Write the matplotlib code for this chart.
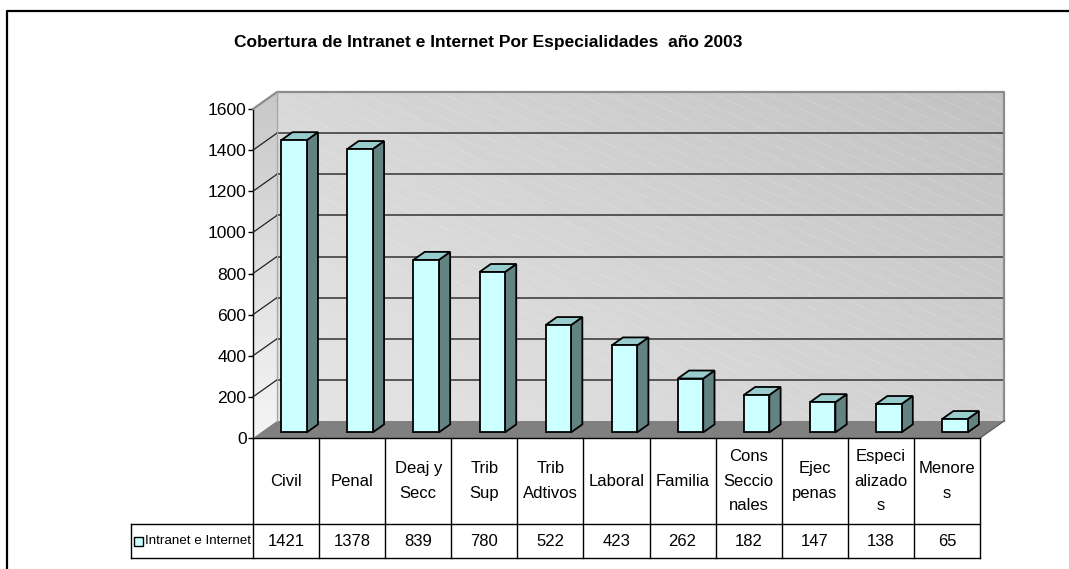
import numpy as np
import matplotlib
matplotlib.use("Agg")
import matplotlib.pyplot as plt
from matplotlib.patches import Polygon, Rectangle
from matplotlib.lines import Line2D
from matplotlib.transforms import IdentityTransform

# ---------------- data ----------------
title = "Cobertura de Intranet e Internet Por Especialidades  año 2003"
categories = ["Civil", "Penal", "Deaj y\nSecc", "Trib\nSup", "Trib\nAdtivos", "Laboral",
              "Familia", "Cons\nSeccio\nnales", "Ejec\npenas", "Especi\nalizado\ns", "Menore\ns"]
values = [1421, 1378, 839, 780, 522, 423, 262, 182, 147, 138, 65]
series_name = "Intranet e Internet"
y_ticks = [0, 200, 400, 600, 800, 1000, 1200, 1400, 1600]

# ---------------- style ----------------
FONT = ["Liberation Sans", "DejaVu Sans"]
plt.rcParams["font.family"] = FONT
W, H, DPI = 1069, 569, 100
FRONT = "#CCFFFF"
TOP = "#99CCCC"
SIDE = "#638383"
FLOOR = "#808080"
DEPTH = np.array([24.0, 17.0])   # pixel offset of back wall
BAR_F0, BAR_F1 = 0.33, 0.80      # bar depth span (fraction of wall depth)
BAR_W = 0.385
TXT = 12.0

fig = plt.figure(figsize=(W / DPI, H / DPI), dpi=DPI)
fig.patch.set_facecolor("white")

ax = fig.add_axes([253 / W, (H - 438) / H, (980 - 253) / W, (438 - 109) / H])
n = len(categories)
ax.set_xlim(-0.5, n - 0.5)
ax.set_ylim(y_ticks[0], y_ticks[-1])
ax.set_facecolor("none")
for s in ["top", "right", "bottom"]:
    ax.spines[s].set_visible(False)
ax.spines["left"].set_color("black")
ax.spines["left"].set_linewidth(1.0)
ax.spines["left"].set_zorder(10)
ax.set_xticks([])
ax.set_yticks(y_ticks)
ax.set_yticklabels([str(t) for t in y_ticks])
ax.tick_params(axis="y", length=5 * 72 / DPI, width=1, pad=1.0, labelsize=12.6, colors="black")

fig.canvas.draw()
ID = IdentityTransform()


def P(x, y, f=0.0, dy_px=0.0):
    """data point -> display pixels, shifted by depth fraction f and extra pixel drop"""
    p = ax.transData.transform((x, y))
    return (p[0] + DEPTH[0] * f, p[1] + DEPTH[1] * f - dy_px)


def poly(points, **kw):
    pg = Polygon(points, closed=True, transform=ID, **kw)
    fig.add_artist(pg)
    return pg


def line(points, **kw):
    xs, ys = zip(*points)
    ln = Line2D(xs, ys, transform=ID, **kw)
    fig.add_artist(ln)
    return ln


x0, x1 = -0.5, n - 0.5
ymin, ymax = y_ticks[0], y_ticks[-1]

# ---------------- back wall (gradient) ----------------
bw = [P(x0, ymin, 1), P(x1, ymin, 1), P(x1, ymax, 1), P(x0, ymax, 1)]
bw_patch = poly(bw, facecolor="none", edgecolor="none", zorder=1)
gx, gy = np.meshgrid(np.linspace(0, 1, 200), np.linspace(0, 1, 100))
g = 0.6 * gx + 0.4 * gy
light, dark = 0.90, 0.76
img = light + (dark - light) * g
bx = [bw[0][0], bw[1][0]]
by = [bw[0][1], bw[2][1]]
im = ax.imshow(img, cmap="gray", vmin=0, vmax=1, origin="lower",
               extent=[bx[0], bx[1], by[0], by[1]], transform=ID, zorder=1,
               interpolation="bilinear", aspect="auto")
im.set_clip_box(fig.bbox)
im.set_clip_path(bw_patch)
ax.set_xlim(-0.5, n - 0.5)
ax.set_ylim(ymin, ymax)

# faint diagonal pattern lines on the back wall
for k in range(-10, 45):
    sx = bx[0] + k * 27
    ln = line([(sx, by[1]), (sx + 800, by[1] - 800 * 0.45)], color="white",
              lw=0.6, alpha=0.35, ls=(0, (2, 2)), zorder=1.5)
    ln.set_clip_path(bw_patch)

# ---------------- side wall (gradient) ----------------
sw = [P(x0, ymin, 0), P(x0, ymin, 1), P(x0, ymax, 1), P(x0, ymax, 0)]
sw_patch = poly(sw, facecolor="none", edgecolor="none", zorder=1)
simg = np.linspace(0.96, 0.78, 100)[:, None] * np.ones((1, 10))
sim = ax.imshow(simg, cmap="gray", vmin=0, vmax=1, origin="lower",
                extent=[sw[0][0], sw[1][0], sw[0][1], sw[3][1] + DEPTH[1]],
                transform=ID, zorder=1, interpolation="bilinear", aspect="auto")
sim.set_clip_box(fig.bbox)
sim.set_clip_path(sw_patch)
ax.set_xlim(-0.5, n - 0.5)
ax.set_ylim(ymin, ymax)

# ---------------- floor ----------------
poly([P(x0, ymin, 0), P(x1, ymin, 0), P(x1, ymin, 1), P(x0, ymin, 1)],
     facecolor=FLOOR, edgecolor="none", zorder=2)
line([P(x1, ymin, 0), P(x1, ymin, 1)], color="#606060", lw=1.0, zorder=2.5)

# ---------------- gridlines ----------------
for t in y_ticks[1:-1]:
    line([P(x0, t, 1), P(x1, t, 1)], color="#333333", lw=1.1, zorder=2)
    line([P(x0, t, 0), P(x0, t, 1)], color="#222222", lw=0.9, zorder=2)

# wall frame edges
EDGE = "#8c8c8c"
line([P(x0, ymax, 0), P(x0, ymax, 1), P(x1, ymax, 1), P(x1, ymin, 1)], color=EDGE, lw=1.6, zorder=2)
line([P(x0, ymin, 1), P(x0, ymax, 1)], color="#a8a8a8", lw=1.0, zorder=2)

# ---------------- bars ----------------
for i, v in enumerate(values):
    l, r = i - BAR_W / 2, i + BAR_W / 2
    kw = dict(edgecolor="black", lw=1.3, joinstyle="miter", zorder=5)
    poly([P(r, 0, BAR_F0), P(r, v, BAR_F0), P(r, v, BAR_F1), P(r, 0, BAR_F1)], facecolor=SIDE, **kw)
    poly([P(l, v, BAR_F0), P(r, v, BAR_F0), P(r, v, BAR_F1), P(l, v, BAR_F1)], facecolor=TOP, **kw)
    poly([P(l, 0, BAR_F0), P(r, 0, BAR_F0), P(r, v, BAR_F0), P(l, v, BAR_F0)], facecolor=FRONT, **kw)

# ---------------- data table ----------------
ROW1, ROW2 = 86, 34          # pixel heights of label row and value row
LEG_LEFT = 131               # x pixel of legend cell left border
tb = dict(color="black", lw=1.0, zorder=6)
line([P(x0, 0), P(x1, 0)], **tb)
line([(LEG_LEFT, P(x0, 0, 0, ROW1)[1]), P(x1, 0, 0, ROW1)], **tb)
line([(LEG_LEFT, P(x0, 0, 0, ROW1 + ROW2)[1]), P(x1, 0, 0, ROW1 + ROW2)], **tb)
line([(LEG_LEFT, P(x0, 0, 0, ROW1)[1]), (LEG_LEFT, P(x0, 0, 0, ROW1 + ROW2)[1])], **tb)
for k in range(n + 1):
    xb = k - 0.5
    line([P(xb, 0), P(xb, 0, 0, ROW1 + ROW2)], **tb)

for i, (c, v) in enumerate(zip(categories, values)):
    px, py = P(i, 0, 0, ROW1 / 2)
    fig.text(px / W, py / H, c, ha="center", va="center", fontsize=TXT,
             linespacing=1.8, family=FONT)
    px, py = P(i, 0, 0, ROW1 + ROW2 / 2)
    fig.text(px / W, py / H, str(v), ha="center", va="center", fontsize=TXT, family=FONT)

# legend key in table
ky = P(x0, 0, 0, ROW1 + ROW2 / 2)[1]
fig.add_artist(Rectangle((LEG_LEFT + 3, ky - 4.5), 9, 9, transform=ID,
                         facecolor=FRONT, edgecolor="black", lw=1.0, zorder=7))
fig.text((LEG_LEFT + 14) / W, ky / H, series_name, ha="left", va="center",
         fontsize=9.6, family=FONT)

# ---------------- title ----------------
fig.text(488 / W, 1 - 47.5 / H, title, ha="center", va="baseline",
         fontsize=12.5, fontweight="bold", family=FONT)

# ---------------- chart area border ----------------
fig.add_artist(Line2D([7, 7, W + 5], [-5, H - 10.5, H - 10.5], transform=ID,
                      color="black", lw=1.6, zorder=20))

fig.savefig("out.png", dpi=DPI)
